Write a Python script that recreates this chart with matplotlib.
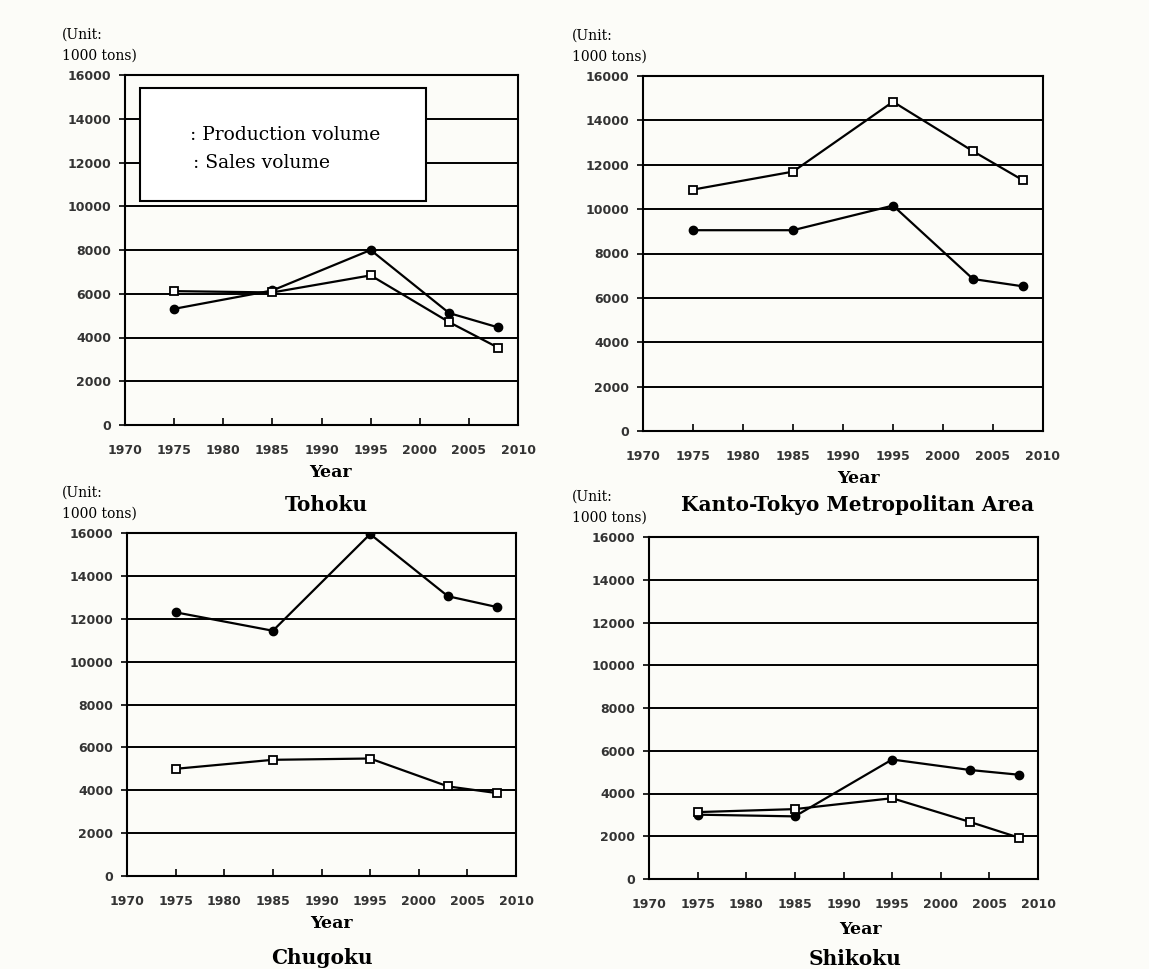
import numpy as np
import matplotlib
matplotlib.use("Agg")
import matplotlib.pyplot as plt

years = [1975, 1985, 1995, 2003, 2008]

tohoku_prod = [5310, 6150, 8000, 5115, 4460]
tohoku_sales = [6120, 6060, 6840, 4700, 3530]

kanto_prod = [9050, 9050, 10160, 6850, 6520]
kanto_sales = [10880, 11690, 14840, 12610, 11300]

chugoku_prod = [12300, 11440, 15950, 13050, 12550]
chugoku_sales = [5000, 5420, 5480, 4180, 3870]

shikoku_prod = [3010, 2930, 5590, 5100, 4880]
shikoku_sales = [3130, 3270, 3780, 2670, 1940]

regions = ["Tohoku", "Kanto-Tokyo Metropolitan Area", "Chugoku", "Shikoku"]
x_ticks = list(range(1970, 2011, 5))
y_ticks = list(range(0, 16001, 2000))

bg = "#fcfcf8"
fig = plt.figure(figsize=(11.49, 9.69), dpi=100, facecolor=bg)
W, H = 1149, 969

# axes boxes in pixels: (left, top, right, bottom)
boxes = [(125, 75, 518, 425), (643, 76, 1043, 431),
         (127, 533, 516, 876), (649, 537, 1038, 879)]
# text anchors in pixels
unit_x = [62, 572, 62, 572]
year_xy = [(330, 473), (858, 478), (331, 923), (860, 929)]
name_xy = [(326, 505), (858, 505), (322, 958), (855, 959)]

data = [(tohoku_prod, tohoku_sales), (kanto_prod, kanto_sales),
        (chugoku_prod, chugoku_sales), (shikoku_prod, shikoku_sales)]

for i, ((l, t, r, b), name, (prod, sales)) in enumerate(zip(boxes, regions, data)):
    ax = fig.add_axes([l / W, 1 - b / H, (r - l) / W, (b - t) / H])
    ax.set_facecolor(bg)
    ax.set_xlim(1970, 2010)
    ax.set_ylim(0, 16000)
    ax.set_xticks(x_ticks)
    ax.set_yticks(y_ticks)
    ax.yaxis.grid(True, color="black", linewidth=1.4)
    ax.set_axisbelow(True)
    for s in ax.spines.values():
        s.set_linewidth(1.5)
        s.set_color("black")
    ax.tick_params(axis="x", direction="in", length=5, width=1.2, pad=14)
    ax.tick_params(axis="y", direction="out", length=4, width=1.2, pad=6)
    for lab in ax.get_xticklabels() + ax.get_yticklabels():
        lab.set_fontfamily("DejaVu Sans")
        lab.set_fontweight("bold")
        lab.set_fontsize(9)
        lab.set_color("#333333")

    ax.plot(years, prod, color="black", linewidth=1.6, marker="o",
            markersize=6, markerfacecolor="black", markeredgecolor="black", zorder=3)
    ax.plot(years, sales, color="black", linewidth=1.6, marker="s",
            markersize=5.5, markerfacecolor="white", markeredgecolor="black",
            markeredgewidth=1.3, zorder=3)

    fig.text(unit_x[i] / W, 1 - (t - 40) / H, "(Unit:", fontfamily="DejaVu Serif",
             fontsize=10, va="center", ha="left")
    fig.text(unit_x[i] / W, 1 - (t - 19) / H, "1000 tons)", fontfamily="DejaVu Serif",
             fontsize=10, va="center", ha="left")
    fig.text(year_xy[i][0] / W, 1 - year_xy[i][1] / H, "Year",
             fontfamily="DejaVu Serif", fontweight="bold", fontsize=12.5,
             ha="center", va="center")
    fig.text(name_xy[i][0] / W, 1 - name_xy[i][1] / H, name,
             fontfamily="DejaVu Serif", fontweight="bold", fontsize=14.5,
             ha="center", va="center")

# legend box in the first panel (text only, as in the original)
fig.patches.append(plt.Rectangle((140 / W, 1 - 201 / H), 286 / W, 113 / H,
                                 transform=fig.transFigure, facecolor="white",
                                 edgecolor="black", linewidth=1.5, zorder=5))
fig.text(190 / W, 1 - 135 / H, ": Production volume", fontfamily="DejaVu Serif",
         fontsize=13.5, va="center", zorder=6)
fig.text(193 / W, 1 - 163 / H, ": Sales volume", fontfamily="DejaVu Serif",
         fontsize=13.5, va="center", zorder=6)

fig.savefig("out.png", dpi=100, facecolor=bg)
